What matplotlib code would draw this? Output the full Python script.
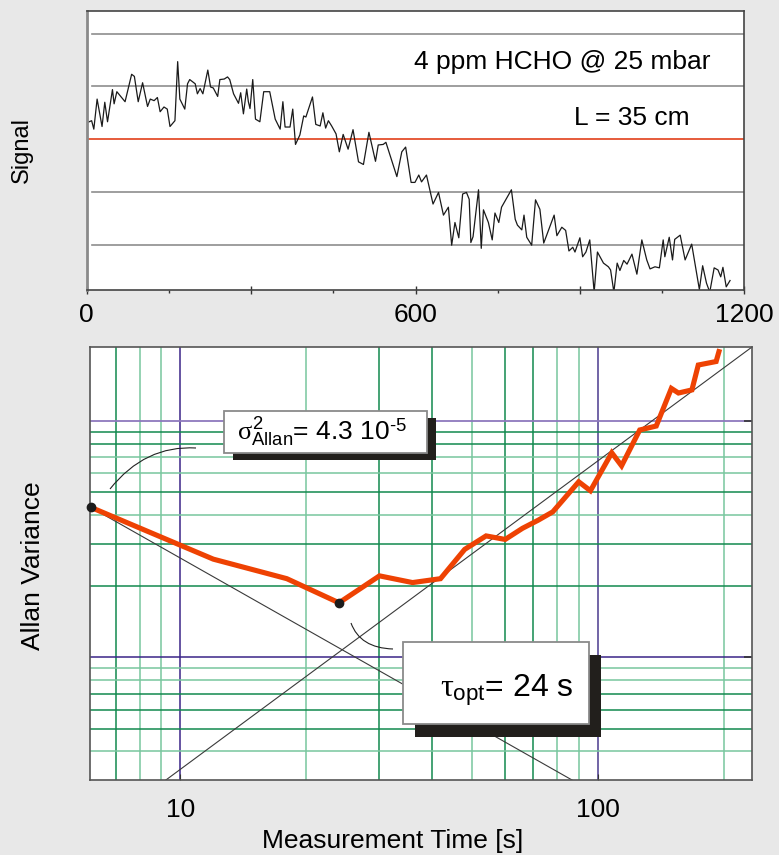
"""
HCHO signal trace and its Allan variance.

Top panel: raw absorption signal over the 20 min run.
Bottom panel: Allan variance vs. integration time, with the white-noise
(slope -1) and drift guide lines and the optimum integration time.
"""
import matplotlib
matplotlib.use("Agg")
import matplotlib.pyplot as plt
from matplotlib.patches import Rectangle, PathPatch
from matplotlib.path import Path
from matplotlib.ticker import FixedLocator, NullLocator, NullFormatter

plt.rcParams["font.family"] = ["Liberation Sans", "DejaVu Sans"]
plt.rcParams["mathtext.fontset"] = "custom"
plt.rcParams["mathtext.rm"] = "Liberation Sans"
plt.rcParams["mathtext.it"] = "Liberation Serif"
plt.rcParams["mathtext.bf"] = "Liberation Sans:bold"

W, H = 779, 855

# --- signal trace: time [s], signal in grid units (0 = red reference line)
signal_time = [
    0, 9, 13, 19, 28, 33, 38, 47, 50, 55,
    70, 82, 87, 94, 102, 111, 116, 123, 129, 134,
    141, 147, 152, 161, 166, 170, 179, 184, 188, 198,
    202, 207, 212, 221, 226, 231, 239, 243, 251, 257,
    261, 268, 277, 281, 286, 292, 295, 298, 303, 308,
    316, 323, 334, 344, 353, 358, 362, 371, 376, 381,
    389, 396, 400, 405, 412, 418, 426, 431, 436, 441,
    447, 455, 461, 468, 477, 486, 496, 505, 515, 527,
    532, 541, 546, 566, 575, 582, 592, 599, 606, 611,
    620, 632, 642, 651, 660, 666, 672, 679, 686, 693,
    698, 701, 705, 715, 720, 724, 733, 740, 745, 752,
    757, 775, 782, 786, 794, 798, 803, 812, 819, 827,
    834, 853, 858, 867, 874, 880, 887, 891, 900, 905,
    911, 918, 926, 932, 943, 952, 956, 962, 968, 973,
    980, 986, 995, 1004, 1013, 1022, 1028, 1037, 1045, 1052,
    1055, 1063, 1069, 1073, 1083, 1092, 1104, 1118, 1124, 1131,
    1137, 1145, 1152, 1157, 1161, 1167, 1174,
]
signal_value = [
    0.31, 0.35, 0.19, 0.76, 0.24, 0.70, 0.33, 0.94, 0.67, 0.90,
    0.71, 1.23, 1.19, 0.71, 1.07, 0.62, 0.76, 0.73, 0.79, 0.52,
    0.61, 0.57, 0.24, 0.35, 1.47, 0.76, 0.57, 1.05, 1.13, 1.05,
    0.86, 0.96, 0.86, 1.31, 0.99, 0.97, 0.81, 1.13, 1.14, 1.18,
    1.13, 0.86, 0.68, 0.88, 0.48, 0.95, 0.71, 0.58, 1.13, 0.38,
    0.33, 0.90, 0.90, 0.38, 0.19, 0.71, 0.23, 0.23, 0.57, -0.10,
    0.08, 0.44, 0.42, 0.58, 0.80, 0.28, 0.25, 0.50, 0.21, 0.35,
    0.25, 0.10, -0.24, 0.09, -0.19, 0.18, -0.43, -0.48, 0.13, -0.42,
    -0.11, -0.10, -0.06, -0.71, -0.24, -0.15, -0.82, -0.82, -0.68, -0.81,
    -0.68, -1.23, -1.01, -1.44, -1.29, -2.01, -1.58, -1.87, -1.04, -1.01,
    -1.14, -1.96, -1.85, -0.96, -2.07, -1.34, -1.58, -1.91, -1.40, -1.58,
    -1.29, -0.96, -1.52, -1.63, -1.72, -1.44, -1.86, -2.01, -1.15, -1.33,
    -1.97, -1.44, -1.83, -1.67, -1.73, -2.12, -2.05, -2.14, -1.87, -2.23,
    -2.14, -1.91, -2.90, -2.14, -2.35, -2.42, -2.48, -2.90, -2.35, -2.49,
    -2.30, -2.37, -2.18, -2.56, -1.91, -2.29, -2.46, -2.42, -2.44, -1.91,
    -2.23, -1.86, -2.29, -1.90, -1.82, -2.29, -1.99, -2.85, -2.40, -2.73,
    -2.90, -2.44, -2.48, -2.61, -2.43, -2.80, -2.68,
]
signal_grid = [-2, -1, 1, 2]
signal_ref = 0
time_ticks = [0, 300, 600, 900, 1200]
time_ticklabels = ["0", "", "600", "", "1200"]
time_minor = [150, 450, 750, 1050]

# --- Allan variance
allan_tau = [6.1, 12, 18, 24, 30, 36, 42, 48, 54, 60, 66, 72, 78, 90, 96,
             108, 114, 126, 138, 150, 156, 168, 174, 192, 195]
allan_var = [4.31e-5, 2.60e-5, 2.15e-5, 1.70e-5, 2.21e-5, 2.07e-5, 2.15e-5,
             2.86e-5, 3.26e-5, 3.15e-5, 3.51e-5, 3.80e-5, 4.12e-5, 5.52e-5,
             5.06e-5, 7.32e-5, 6.45e-5, 9.14e-5, 9.50e-5, 1.37e-4, 1.31e-4,
             1.35e-4, 1.72e-4, 1.78e-4, 1.96e-4]
marked_tau = [6.1, 24]
marked_var = [4.31e-5, 1.70e-5]

# guide lines: white noise (slope -1) and drift
noise_tau = [6.1, 90]
noise_var = [4.31e-5, 2.92e-6]
drift_tau = [9.24, 234]
drift_var = [3.03e-6, 2.05e-4]

tau_ticks = [10, 100]
tau_ticklabels = ["10", "100"]

GREEN_DARK = "#12894e"
GREEN_LIGHT = "#78c69e"
PURPLE_DARK = "#3a2488"
PURPLE_LIGHT = "#8d78bd"
ORANGE = "#ee4203"

# which minor grid lines render in the lighter green
light_x = {(8, 0), (9, 0), (2, 1), (5, 1), (8, 1), (9, 1), (2, 2)}
light_y = {(7, -5), (6, -5), (4, -5), (9, -6), (8, -6), (4, -6)}


def fig_frac(x, y):
    return x / W, 1 - y / H


fig = plt.figure(figsize=(W / 100, H / 100), dpi=100, facecolor="#e8e8e8")

# ---------------- top panel: signal ----------------
ax1 = fig.add_axes([86.7 / W, 1 - 290 / H, 657.6 / W, 279 / H])
ax1.set_facecolor("white")
ax1.set_xlim(0, 1200)
ax1.set_ylim(-2.86, 2.43)
for v in signal_grid:
    ax1.axhline(v, xmin=0.008, color="#8e8e8e", lw=1.2, zorder=1)
ax1.axhline(signal_ref, color="#e2401a", lw=1.2, zorder=1)
ax1.plot(signal_time, signal_value, color="#1a1a1a", lw=0.9, zorder=2)

ax1.set_xticks(time_ticks)
ax1.set_xticklabels(time_ticklabels)
ax1.xaxis.set_minor_locator(FixedLocator(time_minor))
ax1.tick_params(axis="x", which="major", direction="inout", length=6,
                width=1, color="#333333", labelsize=19, pad=6)
ax1.tick_params(axis="x", which="minor", direction="out", length=2.5,
                width=1, color="#333333")
ax1.set_yticks([])
for side in ["top", "right", "bottom"]:
    ax1.spines[side].set_color("#444444")
    ax1.spines[side].set_linewidth(1.2)
ax1.spines["left"].set_color("#8a8a8a")
ax1.spines["left"].set_linewidth(2)

fig.text(*fig_frac(562.5, 68.5), "4 ppm HCHO @ 25 mbar", fontsize=19,
         ha="center", va="baseline")
fig.text(*fig_frac(631.7, 125), "L = 35 cm", fontsize=19,
         ha="center", va="baseline")
fig.text(*fig_frac(22, 150), "Signal", fontsize=17, rotation=90,
         ha="center", va="center")

# ---------------- bottom panel: Allan variance ----------------
ax2 = fig.add_axes([90 / W, 1 - 780 / H, 662 / W, 433 / H])
ax2.set_facecolor("white")
ax2.set_xscale("log")
ax2.set_yscale("log")
ax2.set_xlim(6.08, 234)
ax2.set_ylim(3.03e-6, 2.05e-4)

for k, dec in enumerate([1, 10, 100]):
    for m in range(2, 10):
        x = m * dec
        if 6.5 < x < 234:
            col = GREEN_LIGHT if (m, k) in light_x else GREEN_DARK
            ax2.axvline(x, color=col, lw=1.1, zorder=1)
ax2.axvline(10, color=PURPLE_DARK, lw=1.1, zorder=1)
ax2.axvline(100, color="#4a3a8e", lw=1.1, zorder=1)

for e in [-6, -5]:
    for m in range(2, 10):
        y = m * 10.0 ** e
        if 3.1e-6 < y < 1.9e-4:
            col = GREEN_LIGHT if (m, e) in light_y else GREEN_DARK
            ax2.axhline(y, color=col, lw=1.1, zorder=1)
ax2.axhline(1e-5, color=PURPLE_DARK, lw=1.1, zorder=1)
ax2.axhline(1e-4, color=PURPLE_LIGHT, lw=1.3, zorder=1)

ax2.plot(noise_tau, noise_var, color="#3a3a3a", lw=0.8, zorder=2)
ax2.plot(drift_tau, drift_var, color="#3a3a3a", lw=0.8, zorder=2)
ax2.plot(allan_tau, allan_var, color=ORANGE, lw=3.7, zorder=3,
         solid_joinstyle="miter")
ax2.plot(marked_tau, marked_var, "o", color="#1c1c1c", ms=6, zorder=4,
         clip_on=False)

ax2.xaxis.set_major_locator(FixedLocator(tau_ticks))
ax2.xaxis.set_minor_locator(NullLocator())
ax2.xaxis.set_minor_formatter(NullFormatter())
ax2.set_xticklabels(tau_ticklabels)
ax2.tick_params(axis="x", which="major", direction="in", length=4,
                color="#333333", labelsize=19, pad=13)
ax2.yaxis.tick_right()
ax2.yaxis.set_major_locator(FixedLocator([1e-5, 1e-4]))
ax2.yaxis.set_minor_locator(NullLocator())
ax2.yaxis.set_major_formatter(NullFormatter())
ax2.yaxis.set_minor_formatter(NullFormatter())
ax2.tick_params(axis="y", which="major", direction="in", length=6,
                color="#333333", width=1.2)
for side in ax2.spines.values():
    side.set_color("#555555")
    side.set_linewidth(1.2)


def ax_frac(x, y):
    # pixel position -> fraction of the bottom axes
    return (x - 90) / 662, (780 - y) / 433


def shadow_box(x0, y0, x1, y1, dx, dy):
    sx, sy = ax_frac(x0 + dx, y1 + dy)
    bx, by = ax_frac(x0, y1)
    w = (x1 - x0) / 662
    h = (y1 - y0) / 433
    ax2.add_patch(Rectangle((sx, sy), w, h, transform=ax2.transAxes,
                            facecolor="#221f1c", edgecolor="none",
                            zorder=6, clip_on=False))
    ax2.add_patch(Rectangle((bx, by), w, h, transform=ax2.transAxes,
                            facecolor="white", edgecolor="#8a8a8a", lw=1.3,
                            zorder=7, clip_on=False))


def leader(p0, c, p1):
    verts = [ax_frac(*p0), ax_frac(*c), ax_frac(*p1)]
    path = Path(verts, [Path.MOVETO, Path.CURVE3, Path.CURVE3])
    ax2.add_patch(PathPatch(path, transform=ax2.transAxes, facecolor="none",
                            edgecolor="#222222", lw=0.8, zorder=5,
                            clip_on=False))


shadow_box(224, 411, 427, 453, 9, 7.5)
shadow_box(403, 642, 589, 724, 12, 13)
leader((110, 489), (145, 445), (196, 448))
leader((351, 623), (360, 648), (393, 649))

ax2.text(*ax_frac(237, 440), "$\\sigma^{2}_{\\mathrm{Allan}}$= 4.3 10$^{\\mathrm{\u20105}}$",
         transform=ax2.transAxes, fontsize=19, ha="left", va="baseline",
         zorder=8)
ax2.text(*ax_frac(440, 697), r"$\tau_{\mathrm{opt}}$= 24 s",
         transform=ax2.transAxes, fontsize=23, ha="left", va="baseline",
         zorder=8)

fig.text(*fig_frac(393, 848), "Measurement Time [s]", fontsize=19,
         ha="center", va="baseline")
fig.text(*fig_frac(33, 566), "Allan Variance", fontsize=19, rotation=90,
         ha="center", va="center")

fig.savefig("out.png", dpi=100, facecolor=fig.get_facecolor())
